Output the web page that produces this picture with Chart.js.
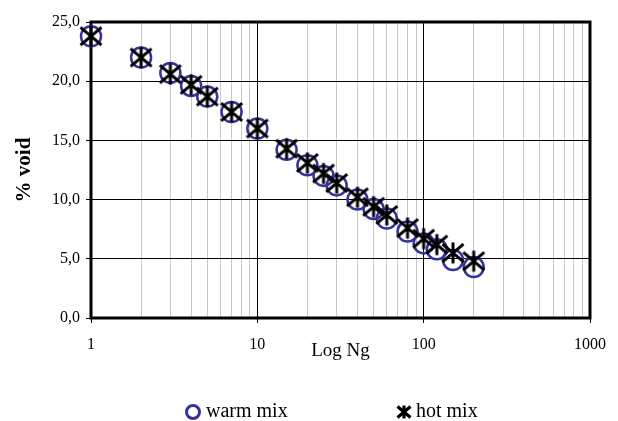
<!DOCTYPE html>
<html>
<head>
<meta charset="utf-8">
<script src="https://cdn.jsdelivr.net/npm/chart.js@4"></script>
<style>
	html, body { margin: 0; padding: 0; background: #fff; }
	#wrap { width: 618px; height: 421px; }
</style>
</head>
<body>
<div id="wrap"><canvas id="voidChart" width="618" height="421"></canvas></div>
<script>
// Ng (gyrations) and % air voids
const ngValues = [1, 2, 3, 4, 5, 7, 10, 15, 20, 25, 30, 40, 50, 60, 80, 100, 120, 150, 200];
const warmMix = [23.8, 22.0, 20.7, 19.6, 18.7, 17.4, 16.0, 14.2, 12.9, 12.0, 11.2, 10.0, 9.2, 8.4, 7.3, 6.3, 5.8, 4.9, 4.3];
const hotMix = [23.8, 22.0, 20.6, 19.7, 18.7, 17.4, 16.0, 14.3, 13.1, 12.2, 11.4, 10.2, 9.4, 8.7, 7.6, 6.7, 6.2, 5.5, 4.8];
const seriesNames = ["warm mix", "hot mix"];
const xTickValues = [1, 2, 3, 4, 5, 6, 7, 8, 9, 10, 20, 30, 40, 50, 60, 70, 80, 90, 100, 200, 300, 400, 500, 600, 700, 800, 900, 1000];
const yTickValues = [0, 5, 10, 15, 20, 25];

const FONT = "'Liberation Serif', 'Times New Roman', serif";
const BLUE = "#333399";

function isDecade(v) {
	const l = Math.log10(v);
	return Math.abs(l - Math.round(l)) < 1e-9;
}

// asterisk marker: an X with a vertical bar
function makeStar(size, lw, arm) {
	const c = document.createElement("canvas");
	c.width = size;
	c.height = size;
	const g = c.getContext("2d");
	const h = size / 2;
	g.strokeStyle = "#000";
	g.lineWidth = lw;
	g.beginPath();
	g.moveTo(h - arm, h - arm * 0.85); g.lineTo(h + arm, h + arm * 0.85);
	g.moveTo(h + arm, h - arm * 0.85); g.lineTo(h - arm, h + arm * 0.85);
	g.moveTo(h, h - arm); g.lineTo(h, h + arm);
	g.stroke();
	return c;
}

const starPoint = makeStar(28, 3, 10.5);
const starLegend = makeStar(18, 3.2, 6.5);

const framePlugin = {
	id: "frame",
	beforeDatasetsDraw(chart) {
		const a = chart.chartArea;
		const ctx = chart.ctx;
		ctx.save();
		ctx.strokeStyle = "#000";
		ctx.lineWidth = 3;
		ctx.strokeRect(a.left, a.top, a.right - a.left, a.bottom - a.top);
		ctx.restore();
	}
};

const legendPlugin = {
	id: "ownLegend",
	afterDraw(chart) {
		const ctx = chart.ctx;
		const y = 412;
		ctx.save();
		ctx.font = "20px " + FONT;
		ctx.fillStyle = "#000";
		ctx.textBaseline = "middle";
		ctx.textAlign = "left";
		// warm mix
		ctx.strokeStyle = BLUE;
		ctx.lineWidth = 3;
		ctx.beginPath();
		ctx.arc(193, y, 6.5, 0, Math.PI * 2);
		ctx.stroke();
		ctx.fillText(seriesNames[0], 206, y);
		// hot mix
		ctx.drawImage(starLegend, 404 - 9, y - 9);
		ctx.fillText(seriesNames[1], 416, y);
		ctx.restore();
	}
};

const ctx = document.getElementById("voidChart").getContext("2d");

const chart = new Chart(ctx, {
	type: "scatter",
	data: {
		datasets: [
			{
				label: seriesNames[0],
				data: ngValues.map((x, i) => ({x: x, y: warmMix[i]})),
				pointStyle: "circle",
				pointRadius: 10,
				pointBorderWidth: 2.5,
				pointBorderColor: BLUE,
				pointBackgroundColor: "transparent",
				clip: false,
				order: 1,
			},
			{
				label: seriesNames[1],
				data: ngValues.map((x, i) => ({x: x, y: hotMix[i]})),
				pointStyle: starPoint,
				pointRadius: 10,
				clip: false,
				order: 0,
			},
		],
	},
	plugins: [framePlugin, legendPlugin],
	options: {
		responsive: false,
		animation: false,
		events: [],
		layout: {
			padding: {top: 22, right: 23, left: 0, bottom: 53}
		},
		plugins: {
			legend: {display: false},
			tooltip: {enabled: false},
		},
		scales: {
			x: {
				type: "logarithmic",
				min: 1,
				max: 1000,
				afterFit: function(scale) { scale.height = 50; },
				afterBuildTicks: function(scale) {
					scale.ticks = xTickValues.map(v => ({value: v}));
				},
				border: {display: false},
				grid: {
					color: function(c) { return isDecade(c.tick.value) ? "#000" : "#c8c8c8"; },
					tickColor: function(c) { return isDecade(c.tick.value) ? "#000" : "rgba(0,0,0,0)"; },
					lineWidth: 1,
					tickLength: 5,
				},
				ticks: {
					autoSkip: false,
					maxRotation: 0,
					padding: 12,
					color: "#000",
					font: {family: FONT, size: 16},
					callback: function(value) { return isDecade(value) ? String(value) : ""; }
				},
				title: {
					display: true,
					text: "Log Ng",
					color: "#000",
					font: {family: FONT, size: 19},
					padding: {top: 0, bottom: 5.6},
				},
			},
			y: {
				type: "linear",
				min: 0,
				max: 25,
				afterFit: function(scale) { scale.width = 91; },
				afterBuildTicks: function(scale) {
					scale.ticks = yTickValues.map(v => ({value: v}));
				},
				border: {display: false},
				grid: {
					color: "#000",
					lineWidth: 1,
					tickLength: 5,
				},
				ticks: {
					padding: 6,
					color: "#000",
					font: {family: FONT, size: 16},
					callback: function(value) { return value.toFixed(1).replace(".", ","); }
				},
				title: {
					display: true,
					text: "% void",
					color: "#000",
					font: {family: FONT, size: 21, weight: "bold"},
					padding: {top: 12.4, bottom: 0},
				},
			},
		},
	},
});
</script>
</body>
</html>
